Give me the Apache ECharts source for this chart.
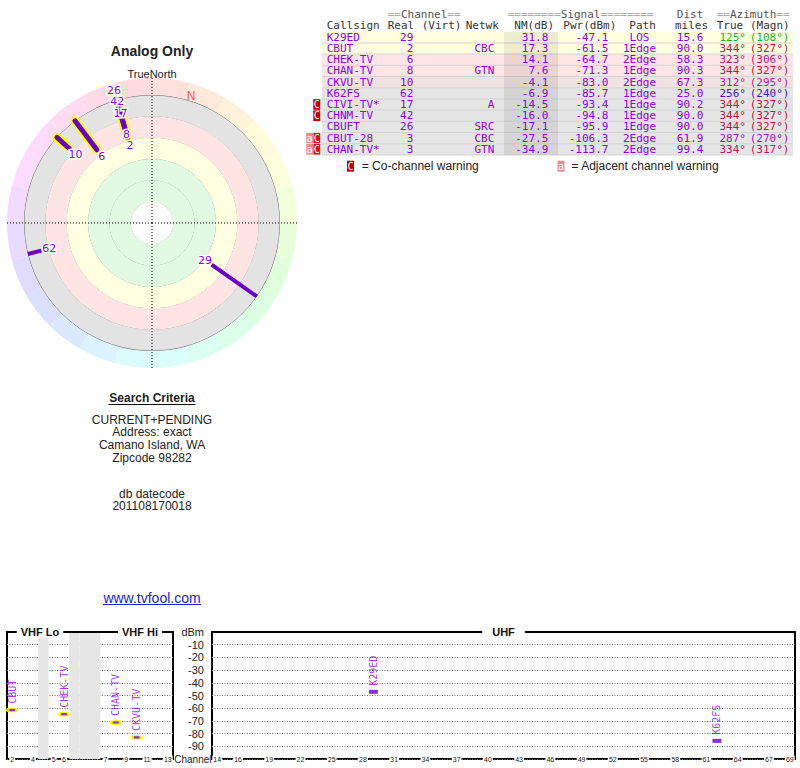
<!DOCTYPE html>
<html><head><meta charset="utf-8">
<script src="https://cdn.jsdelivr.net/npm/echarts@6/dist/echarts.min.js"></script>
<style>html,body{margin:0;padding:0;background:#fff}#c{width:800px;height:768px}</style>
</head><body><div id="c"></div><script>
// ---------------- data ----------------
const callsigns = ['K29ED','CBUT','CHEK-TV','CHAN-TV','CKVU-TV','K62FS','CIVI-TV*','CHNM-TV','CBUFT','CBUT-28','CHAN-TV*'];
const realCh    = [29, 2, 6, 8, 10, 62, 17, 42, 26, 3, 3];
const networks  = ['', 'CBC', '', 'GTN', '', '', 'A', '', 'SRC', 'CBC', 'GTN'];
const nmDb      = [31.8, 17.3, 14.1, 7.6, -4.1, -6.9, -14.5, -16.0, -17.1, -27.5, -34.9];
const pwrDbm    = [-47.1, -61.5, -64.7, -71.3, -83.0, -85.7, -93.4, -94.8, -95.9, -106.3, -113.7];
const paths     = ['LOS','1Edge','2Edge','1Edge','2Edge','1Edge','1Edge','1Edge','1Edge','2Edge','2Edge'];
const distMiles = [15.6, 90.0, 58.3, 90.3, 67.3, 25.0, 90.2, 90.0, 90.0, 61.9, 99.4];
const azTrue    = [125, 344, 323, 344, 312, 256, 344, 344, 344, 287, 334];
const azMagn    = [108, 327, 306, 327, 295, 240, 327, 327, 327, 270, 317];
const coWarn    = [0,0,0,0,0,0,1,1,0,1,1];
const adjWarn   = [0,0,0,0,0,0,0,0,0,1,1];
const ringTicks = [-20, 0, 20, 40, 60, 80, 100];           // NM(dB) rings of the polar plot
const wedgeHues = [0,15,30,45,60,75,90,105,120,135,150,165,180,195,210,225,240,255,270,285,300,315,330,345];
const vhfSlots  = ['2','3','4','gA','5','6','gB1','gB2','gB3','7','8','9','10','11','12','13'];
const vhfLabels = ['2','4','5','6','7','9','11','13'];
const uhfChannels = ['14','15','16','17','18','19','20','21','22','23','24','25','26','27','28','29','30','31','32','33','34','35','36','37','38','39','40','41','42','43','44','45','46','47','48','49','50','51','52','53','54','55','56','57','58','59','60','61','62','63','64','65','66','67','68','69'];
const uhfLabels = ['14','16','19','22','25','28','31','34','37','40','43','46','49','52','55','58','61','64','67','69'];
const searchLines = ['CURRENT+PENDING','Address: exact','Camano Island, WA','Zipcode 98282'];
const dateLines = ['db datecode','201108170018'];

// ---------------- styles ----------------
const SANS = 'Liberation Sans, Arial, sans-serif';
const MONO = 'DejaVu Sans Mono, monospace';
const PURPLE = '#8c00e6';
const BAR = '#6a00c8';
const CX = 152, CY = 223;
const OUTER_NM = -20;

const chart = echarts.init(document.getElementById('c'), null, {renderer: 'svg', width: 800, height: 768});

// ---------- polar station bars (custom series) ----------
const polarData = [];
nmDb.forEach((nm, i) => { if (nm > OUTER_NM) polarData.push([nm, azTrue[i], realCh[i]]); });

// deterministic label placement (strongest first), pushed outward on collision
function labelPositions(api, cx, cy) {
  const out = [];
  polarData.forEach(d => {
    const p = api.coord([d[0], d[1]]);
    const dx = p[0] - cx, dy = p[1] - cy, r = Math.hypot(dx, dy);
    const ux = dx / r, uy = dy / r;
    let lr = r - 8;
    for (let k = 0; k < 12; k++) {
      const lx = cx + ux * lr, ly = cy + uy * lr;
      const hit = out.find(q => Math.hypot(q[0] - lx, q[1] - ly) < 11);
      if (!hit) break;
      lr = Math.hypot(hit[0] - cx, hit[1] - cy) + 12;
    }
    out.push([cx + ux * lr, cy + uy * lr]);
  });
  return out;
}
function renderStation(params, api) {
  const idx = params.dataIndex;
  const nm = api.value(0), az = api.value(1), ch = api.value(2);
  const p1 = api.coord([nm, az]);
  const p2 = api.coord([OUTER_NM, az]);
  const cx = params.coordSys.cx, cy = params.coordSys.cy;
  const lp = labelPositions(api, cx, cy)[idx];
  const vhf = ch <= 13;
  const shape = {x1: p1[0], y1: p1[1], x2: p2[0], y2: p2[1]};
  const children = [];
  if (vhf) children.push({type: 'line', shape, z2: 1, style: {stroke: '#ffff00', lineWidth: 9, lineCap: 'round'}});
  children.push({type: 'line', shape, z2: 2, style: {stroke: BAR, lineWidth: vhf ? 5 : 4, lineCap: vhf ? 'round' : 'butt'}});
  children.push({type: 'text', z2: 50, style: {text: String(ch), x: lp[0], y: lp[1], fill: PURPLE, font: '11px DejaVu Sans', align: 'center', verticalAlign: 'middle', stroke: '#fff', lineWidth: 3, lineHeight: 10}});
  return {type: 'group', children};
}

// ---------- spectrum data ----------
const vhfData = [], uhfData = [];
nmDb.forEach((nm, i) => {
  if (nm <= -10) return;
  const item = {name: callsigns[i], value: [String(realCh[i]), pwrDbm[i]]};
  (realCh[i] <= 13 ? vhfData : uhfData).push(item);
});
const specLabel = {show: true, formatter: '{b}', position: 'top', rotate: 90, align: 'left', verticalAlign: 'middle', distance: 4, color: PURPLE, fontFamily: MONO, fontSize: 10};
const vhfBands = vhfSlots.map(s => s.charAt(0) === 'g' ? '#e6e6e6' : 'rgba(0,0,0,0)');

// ---------- graphic (table & texts) ----------
const g = [];
function T(x, y, text, o) {
  const st = Object.assign({text, fill: '#222', font: '12px ' + SANS, align: 'left', verticalAlign: 'middle'}, o || {});
  st.textAlign = st.align; st.textVerticalAlign = st.verticalAlign;
  g.push({type: 'text', x, y, z: 100, silent: true, style: st});
}
function R(x, y, w, h, fill, z) { g.push({type: 'rect', z: z || 10, silent: true, shape: {x, y, width: w, height: h}, style: {fill}}); }
function L(x1, y1, x2, y2, stroke, w) { g.push({type: 'line', z: 100, silent: true, shape: {x1, y1, x2, y2}, style: {stroke, lineWidth: w || 1}}); }

T(CX, 51, 'Analog Only', {font: 'bold 14px ' + SANS, align: 'center'});
T(CX, 74, 'TrueNorth', {font: '11px ' + SANS, align: 'center'});
T(CX, 397.5, 'Search Criteria', {font: 'bold 12px ' + SANS, align: 'center'});
L(108.5, 404.5, 195.5, 404.5, '#111', 1);
searchLines.forEach((s, k) => T(CX, 419.5 + k * 12.7, s, {align: 'center', lineHeight: 12}));
dateLines.forEach((s, k) => T(CX, 494 + k * 12.3, s, {align: 'center', lineHeight: 12}));
T(CX, 598, 'www.tvfool.com', {font: '14px ' + SANS, align: 'center', fill: '#2222dd'});
L(103, 604.5, 201, 604.5, '#2222dd', 1);

// table
const M11 = '11px ' + MONO;
function hdr1(x, txt, align) {
  const m = txt.match(/^(=*)([^=]+)(=*)$/);
  const st = {font: M11, fill: '#999', align: align || 'left', verticalAlign: 'middle', lineHeight: 10};
  if (m) {
    st.text = '{g|' + m[1] + '}{d|' + m[2] + '}{g|' + m[3] + '}';
    st.rich = {g: {fill: '#aaa', font: M11, lineHeight: 10}, d: {fill: '#555', font: M11, lineHeight: 10}};
  } else { st.text = txt; st.fill = '#555'; }
  st.textAlign = st.align; st.textVerticalAlign = 'middle';
  g.push({type: 'text', x, y: 14, z: 100, silent: true, style: st});
}
hdr1(387.7, '==Channel==');
hdr1(507.7, '========Signal========');
hdr1(703.3, 'Dist', 'right');
hdr1(716.7, '==Azimuth==');
const h2 = [['Callsign', 326.7], ['Real', 387.7], ['(Virt)', 421.7], ['Netwk', 465.7], ['NM(dB)', 514.3], ['Pwr(dBm)', 563.3], ['Path', 629.3], ['miles', 675], ['True', 716.7], ['(Magn)', 750]];
h2.forEach(([s, x]) => T(x, 25.5, s, {font: M11, fill: '#333', lineHeight: 10}));

function rowColor(nm) {
  if (nm >= 15) return '#ffffe0';
  if (nm >= 5) return '#ffe5e5';
  if (nm >= -5) return '#f1e2e2';
  return '#e5e5e5';
}
const ROW0 = 37.3, ROWH = 11.2;
const cell = (fill, align) => ({font: M11, fill, align: align || 'left', lineHeight: 10});
callsigns.forEach((cs, i) => {
  const yc = ROW0 + i * ROWH;
  R(322, yc - ROWH / 2, 471, ROWH, rowColor(nmDb[i]), 5);
  R(322, yc + ROWH / 2 - 0.5, 471, 1, '#d3d3d3', 6);
  R(504, yc - ROWH / 2, 54, ROWH, 'rgba(0,0,0,0.075)', 7);
  const azc = 'hsl(' + azTrue[i] + ',75%,40%)';
  T(326.7, yc, cs, cell(PURPLE));
  T(413.3, yc, String(realCh[i]), cell(PURPLE, 'right'));
  if (networks[i]) T(494.3, yc, networks[i], cell(PURPLE, 'right'));
  T(548.3, yc, nmDb[i].toFixed(1), cell(PURPLE, 'right'));
  T(608.5, yc, pwrDbm[i].toFixed(1), cell(PURPLE, 'right'));
  T(639.5, yc, paths[i], cell(PURPLE, 'center'));
  T(703.3, yc, distMiles[i].toFixed(1), cell(PURPLE, 'right'));
  T(746, yc, azTrue[i] + '\u00b0', cell(azc, 'right'));
  T(789.5, yc, '(' + azMagn[i] + '\u00b0)', cell(azc, 'right'));
  if (coWarn[i]) {
    R(313.3, yc - 5.3, 7, 10.6, adjWarn[i] ? '#d01818' : '#b80000', 20);
    T(316.8, yc, 'C', {font: '10px ' + MONO, fill: '#fff', align: 'center', lineHeight: 10});
  }
  if (adjWarn[i]) {
    R(306.3, yc - 5.3, 7, 10.6, '#f08a8a', 20);
    T(309.8, yc, 'a', {font: '10px ' + MONO, fill: '#fff', align: 'center', lineHeight: 10});
  }
});
R(347, 160.7, 7, 11, '#b80000', 20);
T(350.5, 166.3, 'C', {font: '10px ' + MONO, fill: '#fff', align: 'center'});
T(361.7, 166.3, '= Co-channel warning');
R(557.5, 160.7, 7, 11, '#f08a8a', 20);
T(561, 166.3, 'a', {font: '10px ' + MONO, fill: '#fff', align: 'center'});
T(571.5, 166.3, '= Adjacent channel warning');

// spectrum titles
const titleBox = {font: 'bold 11px ' + SANS, align: 'center', fill: '#111', backgroundColor: '#fff', padding: [0, 4]};
T(40, 632, 'VHF Lo', titleBox);
T(140, 632, 'VHF Hi', titleBox);
T(503.5, 632, 'UHF', Object.assign({}, titleBox, {padding: [0, 10]}));
T(211.5, 759.5, 'Channel', {font: '10px ' + SANS, align: 'right', fill: '#222'});

// ---------------- option ----------------
const hidden = {axisLine: {show: false}, axisTick: {show: false}, axisLabel: {show: false}};
const xLbl = {margin: 0, verticalAlign: 'middle', fontSize: 7, fontFamily: SANS, color: '#222', backgroundColor: '#fff', padding: [0, 1]};
const option = {
  animation: false,
  backgroundColor: '#fff',
  polar: [
    {center: [CX, CY], radius: 145},
    {center: [CX, CY], radius: 128}
  ],
  angleAxis: [
    Object.assign({polarIndex: 0, type: 'value', min: 0, max: 360, interval: 90, startAngle: 90, clockwise: true, z: 10,
      splitLine: {show: true, lineStyle: {color: '#000', width: 1, type: [1, 2]}}}, hidden),
    Object.assign({polarIndex: 1, type: 'value', min: 0, max: 360, startAngle: 90, clockwise: true, z: 1,
      splitLine: {show: false}}, hidden, {axisLine: {show: true, lineStyle: {color: '#555', width: 0.8}}})
  ],
  radiusAxis: [
    Object.assign({polarIndex: 0, type: 'value', min: -36, max: 100, inverse: true, splitLine: {show: false}}, hidden),
    Object.assign({polarIndex: 1, type: 'value', min: ringTicks[0], max: ringTicks[ringTicks.length - 1], interval: 20, inverse: true, z: 1,
      splitLine: {show: true, lineStyle: {color: '#555', width: 0.8}},
      splitArea: {show: true, areaStyle: {color: ['#e3e3e3', '#ffe4e4', '#ffffe2', '#e0f9e0', '#e0f9e0', '#ffffff']}}}, hidden)
  ],
  grid: [
    {left: 7, right: 627, top: 632, bottom: 9, show: true, borderColor: '#000', borderWidth: 2, backgroundColor: 'rgba(0,0,0,0)'},
    {left: 212, right: 5, top: 632, bottom: 9, show: true, borderColor: '#000', borderWidth: 2, backgroundColor: 'rgba(0,0,0,0)'}
  ],
  xAxis: [
    {gridIndex: 0, type: 'category', data: vhfSlots, boundaryGap: true, z: 5,
      axisLine: {lineStyle: {color: '#000', width: 2}}, axisTick: {show: false},
      axisLabel: Object.assign({interval: (idx, v) => vhfLabels.indexOf(v) >= 0}, xLbl),
      splitArea: {show: true, interval: 0, areaStyle: {color: vhfBands}}},
    {gridIndex: 1, type: 'category', data: uhfChannels, boundaryGap: true, z: 5,
      axisLine: {lineStyle: {color: '#000', width: 2}}, axisTick: {show: false},
      axisLabel: Object.assign({interval: (idx, v) => uhfLabels.indexOf(v) >= 0}, xLbl)}
  ],
  yAxis: [
    {gridIndex: 0, type: 'value', min: -100, max: 0, interval: 10, axisLine: {show: false}, axisTick: {show: false}, axisLabel: {show: false},
      splitLine: {lineStyle: {color: '#777', type: [1, 1.5], width: 1}}},
    {gridIndex: 1, type: 'value', min: -100, max: 0, interval: 10, axisLine: {show: false}, axisTick: {show: false},
      axisLabel: {margin: 8, fontSize: 11, fontFamily: SANS, color: '#222', formatter: v => v === 0 ? 'dBm' : (v === -100 ? '' : String(v))},
      splitLine: {lineStyle: {color: '#777', type: [1, 1.5], width: 1}}}
  ],
  series: [
    {type: 'pie', center: [CX, CY], radius: [128, 145], startAngle: 90, clockwise: true, silent: true, z: 1,
      label: {show: false}, labelLine: {show: false},
      data: wedgeHues.map(h => ({value: 1, itemStyle: {color: 'hsl(' + (h + 7.5) + ',100%,93%)', borderWidth: 0}}))},
    {type: 'custom', coordinateSystem: 'polar', polarIndex: 0, z: 20, silent: true, renderItem: renderStation, data: polarData},
    {type: 'scatter', coordinateSystem: 'polar', polarIndex: 0, z: 20, silent: true, symbolSize: 1, itemStyle: {color: 'rgba(0,0,0,0)'},
      label: {show: true, position: 'inside', formatter: 'N', color: '#ff2020', fontSize: 12, fontFamily: SANS},
      data: [[-25, azTrue[0] - azMagn[0]]]},
    {type: 'scatter', xAxisIndex: 0, yAxisIndex: 0, z: 20, symbol: 'roundRect', symbolSize: [9, 3.5],
      itemStyle: {color: BAR, borderColor: '#ffff00', borderWidth: 2.2}, label: specLabel, data: vhfData},
    {type: 'scatter', xAxisIndex: 1, yAxisIndex: 1, z: 20, symbol: 'rect', symbolSize: [9, 4],
      itemStyle: {color: BAR}, label: specLabel, data: uhfData}
  ],
  graphic: {elements: g}
};
chart.setOption(option);
</script></body></html>
